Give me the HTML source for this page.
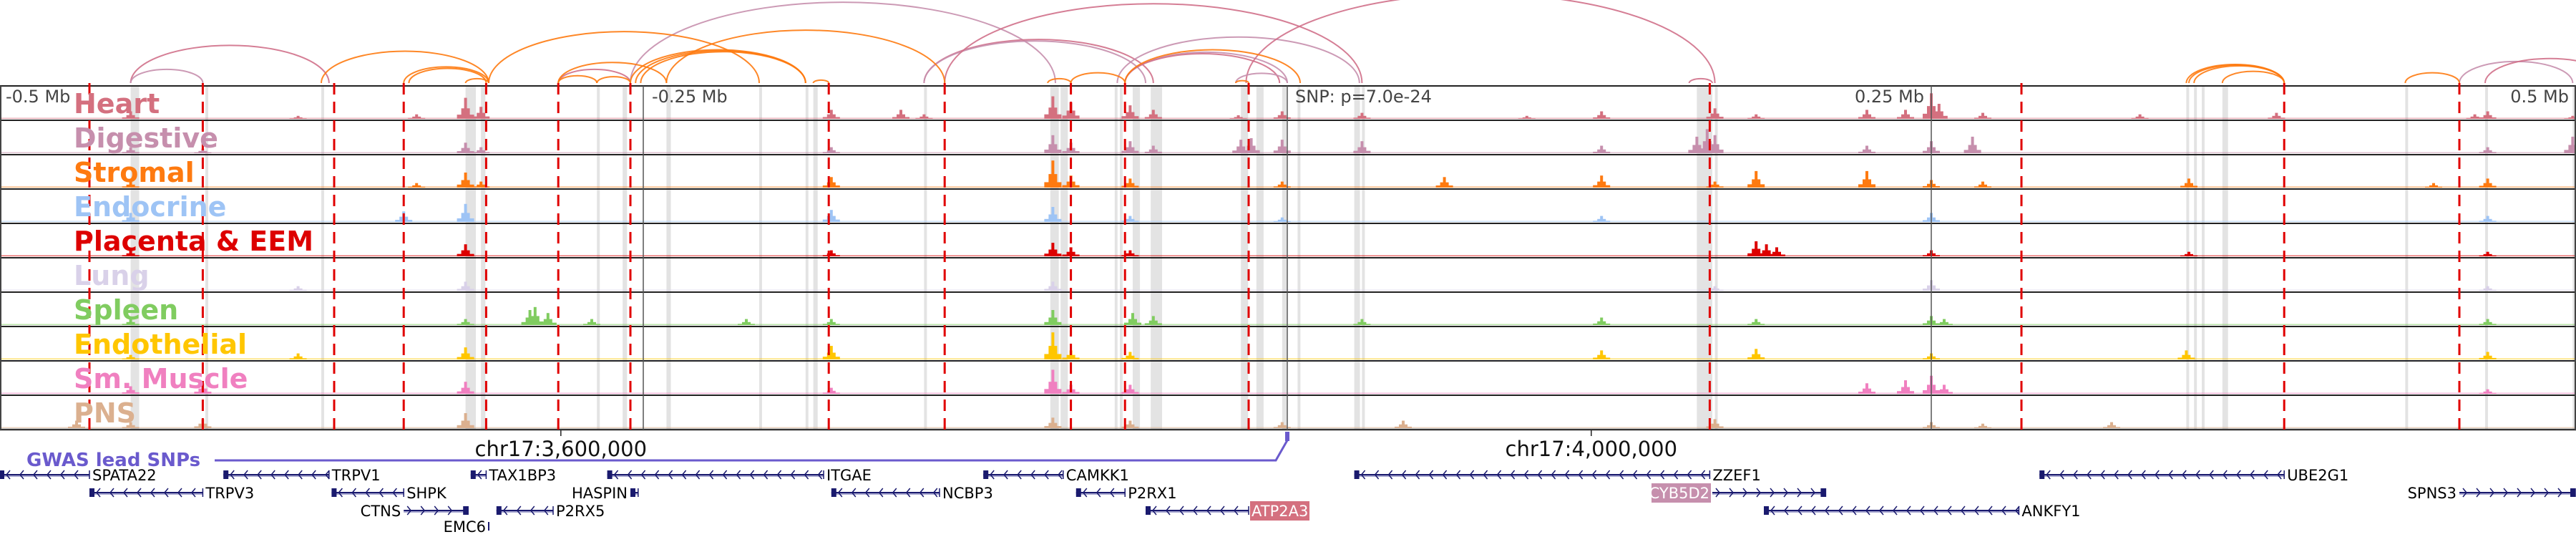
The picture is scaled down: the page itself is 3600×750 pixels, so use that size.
<!DOCTYPE html>
<html><head><meta charset="utf-8"><style>
html,body{margin:0;padding:0;background:#fff;width:3600px;height:750px;overflow:hidden}
svg{display:block}
</style></head><body>
<svg id="fig" width="3600" height="750" viewBox="0 0 3600 750" xmlns="http://www.w3.org/2000/svg" font-family="'DejaVu Sans','Liberation Sans',sans-serif">
<g id="arcs"></g>
<g id="bands"></g>
<g id="tracks"></g>
<g id="reds"></g>
<g id="labels"></g>
<g id="axis"></g>
<g id="genes"></g>
</svg>
<script>
// ---- data (kb relative to lead SNP) ----
const snpLabel = "SNP: p=7.0e-24";
const mbTicks = [-0.5, -0.25, 0.25, 0.5];
const mbTickLabels = ["-0.5 Mb", "-0.25 Mb", "0.25 Mb", "0.5 Mb"];
const chrTicksKb = [-282, 118];
const chrTickLabels = ["chr17:3,600,000", "chr17:4,000,000"];
const trackNames = ["Heart","Digestive","Stromal","Endocrine","Placenta & EEM","Lung","Spleen","Endothelial","Sm. Muscle","PNS"];
const trackColors = ["#d4707f","#c68fad","#fe7a10","#9ec4f5","#dd0000","#d9d1e9","#80cc60","#ffc600","#f080c0","#dbb08f"];
const redLinesKb = [-465,-421,-370,-343,-311,-283,-255,-178,-133,-84,-63,-15,164,285,387,455];
const bandStartKb = [-449,-420,-375,-319,-313,-268,-258,-241,-205,-187,-184,-141,-92,-88,-67,-65,-60,-53,-18,-12,-2,4,26,29,159,166,349,352,355,363,434,465,499];
const bandWidthKb = [3.3,1.1,1.1,4,1.7,1.1,1.7,1.7,1.1,1.1,1.7,1.1,3.3,2.8,1.1,1.1,2.8,4.4,2.8,2.8,1.7,1.1,2.2,1.1,6,1.1,1.1,1.1,1.1,2.2,1.1,1.1,2.8];
const arcsPinkStart = [-449,-449,-283,-255,-141,-141,-133,-63,-63,-66,-16,-20,156,455,465];
const arcsPinkEnd   = [-372,-421,-255,-90,-52,-55,29,0,-3,28,166,0,165,499,515];
const arcsOrangeStart = [-375,-343,-341,-319,-310,-283,-283,-268,-255,-253,-251,-241,-184,-93,-84,-63,-20,349,350,352,363,434];
const arcsOrangeEnd   = [-310,-310,-311,-310,-205,-241,-268,-255,-187,-187,-187,-133,-178,-84,-63,5,-15,387,387,387,387,455];
const heartPeaks = [[-449,.25],[-384,.1],[-338,.15],[-319,.7],[-313,.4],[-177,.3],[-150,.3],[-141,.15],[-91,.75],[-84,.55],[-61,.45],[-52,.3],[-19,.12],[-2,.25],[29,.2],[93,.1],[122,.25],[166,.35],[182,.15],[225,.3],[240,.3],[250,.85],[253,.5],[270,.2],[331,.15],[384,.2],[461,.15],[466,.25],[499,.1]];
const digestivePeaks = [[-449,.2],[-421,.15],[-319,.35],[-313,.2],[-177,.2],[-91,.6],[-84,.35],[-61,.4],[-52,.25],[-18,.45],[-14,.5],[-2,.45],[29,.4],[122,.25],[159,.55],[163,.8],[166,.6],[225,.25],[250,.4],[266,.55],[466,.2],[499,.55]];
const stromalPeaks = [[-449,.2],[-338,.15],[-319,.5],[-313,.2],[-177,.35],[-91,.9],[-84,.4],[-61,.3],[-2,.2],[61,.35],[122,.4],[166,.2],[182,.55],[225,.55],[250,.25],[270,.2],[350,.3],[445,.15],[466,.3]];
const endocrinePeaks = [[-449,.3],[-343,.35],[-319,.6],[-177,.4],[-91,.5],[-61,.2],[-2,.15],[122,.2],[250,.3],[466,.2]];
const placentaPeaks = [[-449,.2],[-319,.4],[-177,.2],[-91,.45],[-84,.3],[-61,.2],[182,.5],[186,.4],[190,.3],[250,.2],[350,.15],[466,.15]];
const lungPeaks = [[-384,.15],[-319,.3],[-91,.3],[166,.15],[250,.35],[466,.15]];
const spleenPeaks = [[-449,.2],[-319,.2],[-294,.5],[-292,.6],[-287,.4],[-270,.2],[-210,.2],[-177,.2],[-91,.5],[-60,.4],[-52,.3],[29,.2],[122,.25],[182,.2],[250,.3],[255,.2],[466,.2]];
const endothelialPeaks = [[-449,.15],[-384,.2],[-319,.4],[-177,.45],[-91,.9],[-84,.3],[-61,.25],[122,.3],[182,.35],[250,.2],[349,.3],[466,.25]];
const smMusclePeaks = [[-449,.25],[-421,.35],[-319,.4],[-177,.2],[-91,.8],[-84,.3],[-61,.3],[225,.35],[240,.45],[250,.6],[255,.3],[466,.15]];
const pnsPeaks = [[-470,.25],[-449,.2],[-421,.3],[-319,.5],[-91,.35],[-61,.25],[-2,.2],[45,.25],[166,.3],[250,.2],[270,.15],[320,.2]];
const allPeaks = [heartPeaks,digestivePeaks,stromalPeaks,endocrinePeaks,placentaPeaks,lungPeaks,spleenPeaks,endothelialPeaks,smMusclePeaks,pnsPeaks];
const geneNames = ["SPATA22","TRPV1","TAX1BP3","ITGAE","CAMKK1","ZZEF1","UBE2G1","TRPV3","SHPK","HASPIN","NCBP3","P2RX1","CYB5D2","SPNS3","CTNS","P2RX5","ATP2A3","ANKFY1","EMC6"];
const geneStartKb = [-500,-413,-317,-264,-118,26,292,-465,-371,-255,-177,-82,165,455,-343,-307,-55,185,-310];
const geneEndKb   = [-465,-372,-311,-180,-87,164,387,-421,-343,-252,-135,-63,209,500,-318,-285,-15,284,-309];
const geneRow     = [0,0,0,0,0,0,0,1,1,1,1,1,1,1,2,2,2,2,3];
const geneStrand  = [-1,-1,-1,-1,-1,-1,-1,-1,-1,-1,-1,-1,1,1,1,-1,-1,-1,-1];
const geneLabelLeft=[0,0,0,0,0,0,0,0,0,1,0,0,1,1,1,0,0,0,1];
const geneHighlight=["","","","","","","","","","","","","#c68fad","","","","#d4707f","",""];

// ---- scales ----
const X0 = 1799, PXKB = 3.6;
const xs = kb => X0 + kb*PXKB;
const TOP = 120, TH = 48, NT = 10, MAXH = 42;
const NS = "http://www.w3.org/2000/svg";
function mk(tag, attrs, parent){const e=document.createElementNS(NS,tag);for(const k in attrs)e.setAttribute(k,attrs[k]);parent.appendChild(e);return e;}

const arcsG = document.getElementById('arcs');
function drawArc(a,b,color){
  const x1=xs(a),x2=xs(b);const rx=(x2-x1)/2;const ry=rx*0.38;
  const p=mk('path',{d:`M${x1},116 A${rx},${ry} 0 0 1 ${x2},116`,fill:'none',stroke:color,'stroke-width':2,opacity:0.9},arcsG);
  
  
}
arcsPinkStart.forEach((s,i)=>drawArc(s,arcsPinkEnd[i],i%2? '#c68fad':'#d0708a'));
arcsOrangeStart.forEach((s,i)=>drawArc(s,arcsOrangeEnd[i],'#fe7a10'));

const bandsG=document.getElementById('bands');
bandStartKb.forEach((s,i)=>{
  const r=mk('rect',{x:xs(s),y:TOP,width:bandWidthKb[i]*PXKB,height:TH*NT,fill:'#e3e3e3'},bandsG);
  
  
});

const tracksG=document.getElementById('tracks');
const labelsG=document.getElementById('labels');
for(let t=0;t<NT;t++){
  const top=TOP+t*TH, base=top+TH-2, col=trackColors[t];
  const g=mk('g',{},tracksG);
  
  
  mk('rect',{x:0,y:base-1.5,width:3600,height:1.5,fill:col,opacity:0.55},g);
  allPeaks[t].forEach(([kb,h])=>{
    const x=xs(kb),H=h*MAXH;
    const b=mk('rect',{x:x-2,y:base-H,width:4,height:H,fill:col},g);
    
    
    mk('rect',{x:x-6,y:base-H*0.5,width:12,height:H*0.5,fill:col},g);
    mk('rect',{x:x-12,y:base-H*0.2,width:24,height:H*0.2,fill:col},g);
  });
  mk('line',{x1:0,x2:3600,y1:top,y2:top,stroke:'#222','stroke-width':2},g);
  const lb=mk('text',{x:103,y:top+38,'font-size':38,'font-weight':'bold',fill:col},labelsG);
  lb.textContent=trackNames[t];
  
  
}
mk('line',{x1:0,x2:3600,y1:TOP+TH*NT,y2:TOP+TH*NT,stroke:'#333','stroke-width':2.5},tracksG);
mk('line',{x1:1,x2:1,y1:TOP,y2:TOP+TH*NT,stroke:'#444','stroke-width':2},tracksG);
mk('line',{x1:3599,x2:3599,y1:TOP,y2:TOP+TH*NT,stroke:'#444','stroke-width':2},tracksG);

const redsG=document.getElementById('reds');
redLinesKb.forEach(kb=>{
  const l=mk('line',{x1:xs(kb),x2:xs(kb),y1:TOP-4,y2:TOP+TH*NT,stroke:'#e00000','stroke-width':3,'stroke-dasharray':'16 10'},redsG);
  
  
});

const axisG=document.getElementById('axis');
mbTicks.forEach((m,i)=>{
  const x=xs(m*1000);
  if(Math.abs(m)<0.4) mk('line',{x1:x,x2:x,y1:TOP,y2:TOP+TH*NT,stroke:'#555','stroke-width':1.5},axisG);
  let anchor='start',tx=x+12;
  if(m===-0.5){tx=8;} if(m>0){anchor='end';tx=x-10;} if(m===0.5){tx=3590;}
  const t=mk('text',{x:tx,y:143,'font-size':24,fill:'#444','text-anchor':anchor},axisG);
  t.textContent=mbTickLabels[i];
  
  
});
mk('line',{x1:xs(0),x2:xs(0),y1:TOP,y2:TOP+TH*NT,stroke:'#555','stroke-width':1.5},axisG);
const snpT=mk('text',{x:xs(0)+11,y:143,'font-size':24,fill:'#444'},axisG);
snpT.textContent=snpLabel;


chrTicksKb.forEach((kb,i)=>{
  const x=xs(kb);
  mk('line',{x1:x,x2:x,y1:601,y2:609,stroke:'#222','stroke-width':1.5},axisG);
  const t=mk('text',{x:x,y:637,'font-size':29,fill:'#111','text-anchor':'middle'},axisG);
  t.textContent=chrTickLabels[i];
  
  
});

const gw=mk('text',{x:37,y:651,'font-size':26,'font-weight':'bold',fill:'#6a5acd'},axisG);
gw.textContent='GWAS lead SNPs';


mk('polyline',{points:`300,643 ${xs(0)-16},643 ${xs(0)},615`,fill:'none',stroke:'#6a5acd','stroke-width':3},axisG);
const sm=mk('rect',{x:xs(0)-3,y:603,width:6,height:13,fill:'#6a5acd'},axisG);



const genesG=document.getElementById('genes');
const rowY=[663,688,713,735];
geneNames.forEach((n,i)=>{
  const g=mk('g',{},genesG);
  
  
  const x1=xs(geneStartKb[i]),x2=xs(geneEndKb[i]),y=rowY[geneRow[i]];
  if(x2-x1>4){
    mk('line',{x1:x1,x2:x2,y1:y,y2:y,stroke:'#1a1a6e','stroke-width':2},g);
    mk('line',{x1:x1,x2:x2,y1:y+2,y2:y+2,stroke:'#8a8ac0','stroke-width':1.5},g);
    let d='';
    for(let ax=x1+10;ax<x2-4;ax+=19){ if(geneStrand[i]<0) d+=`M${ax+5},${y-6}L${ax},${y}L${ax+5},${y+6}`; else d+=`M${ax-5},${y-6}L${ax},${y}L${ax-5},${y+6}`; }
    mk('path',{d:d,fill:'none',stroke:'#1a1a6e','stroke-width':1.5},g);
    mk('line',{x1:x2,x2:x2,y1:y-6,y2:y+6,stroke:'#1a1a6e','stroke-width':1.5},g);
    const bx = geneStrand[i]<0 ? x1 : x2-7;
    mk('rect',{x:bx,y:y-6,width:7,height:12,fill:'#1a1a6e'},g);
  } else {
    mk('line',{x1:x1,x2:x1,y1:y-6,y2:y+6,stroke:'#1a1a6e','stroke-width':2},g);
  }
  const left=geneLabelLeft[i];
  const tx= left? x1-4 : x2+4;
  if(geneHighlight[i]){
    const w=n.length*13.5;
    mk('rect',{x:left? tx-w : tx-2,y:y-13,width:w+2,height:27,fill:geneHighlight[i]},g);
  }
  const t=mk('text',{x:tx,y:y+8,'font-size':21,fill:geneHighlight[i]?'#fff':'#000','text-anchor':left?'end':'start'},g);
  t.textContent=n;
});
</script>
</body></html>
